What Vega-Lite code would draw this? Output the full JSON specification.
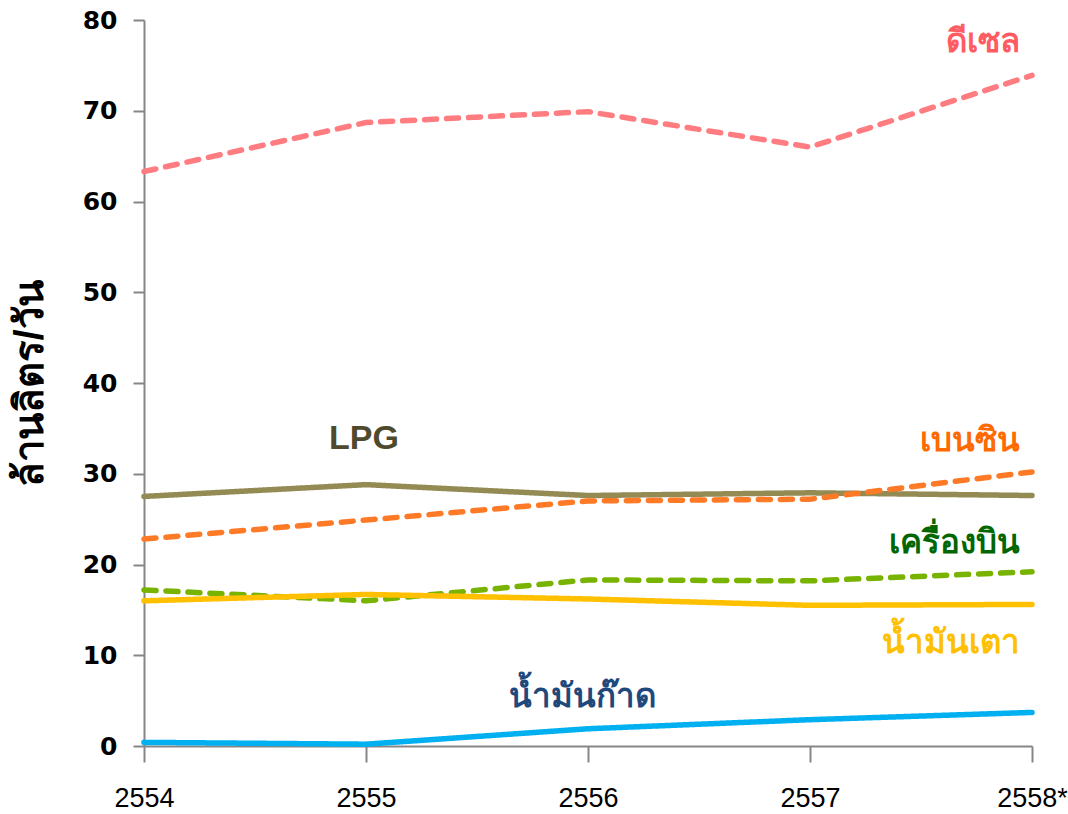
{
  "$schema": "https://vega.github.io/schema/vega-lite/v6.json",
  "width": 888,
  "height": 726,
  "autosize": {"type": "none"},
  "padding": {"left": 144, "top": 20, "right": 36, "bottom": 68},
  "background": "white",
  "config": {"view": {"stroke": null}, "font": "Liberation Sans"},
  "datasets": {
    "lines": [
      {"year": "2554", "series": "ดีเซล", "value": 63.3},
      {"year": "2555", "series": "ดีเซล", "value": 68.7},
      {"year": "2556", "series": "ดีเซล", "value": 69.9},
      {"year": "2557", "series": "ดีเซล", "value": 66.0},
      {"year": "2558*", "series": "ดีเซล", "value": 73.9},
      {"year": "2554", "series": "LPG", "value": 27.5},
      {"year": "2555", "series": "LPG", "value": 28.8},
      {"year": "2556", "series": "LPG", "value": 27.6},
      {"year": "2557", "series": "LPG", "value": 27.9},
      {"year": "2558*", "series": "LPG", "value": 27.6},
      {"year": "2554", "series": "เบนซิน", "value": 22.8},
      {"year": "2555", "series": "เบนซิน", "value": 24.9},
      {"year": "2556", "series": "เบนซิน", "value": 27.0},
      {"year": "2557", "series": "เบนซิน", "value": 27.2},
      {"year": "2558*", "series": "เบนซิน", "value": 30.2},
      {"year": "2554", "series": "เครื่องบิน", "value": 17.2},
      {"year": "2555", "series": "เครื่องบิน", "value": 16.0},
      {"year": "2556", "series": "เครื่องบิน", "value": 18.3},
      {"year": "2557", "series": "เครื่องบิน", "value": 18.2},
      {"year": "2558*", "series": "เครื่องบิน", "value": 19.2},
      {"year": "2554", "series": "น้ำมันเตา", "value": 16.0},
      {"year": "2555", "series": "น้ำมันเตา", "value": 16.7},
      {"year": "2556", "series": "น้ำมันเตา", "value": 16.2},
      {"year": "2557", "series": "น้ำมันเตา", "value": 15.5},
      {"year": "2558*", "series": "น้ำมันเตา", "value": 15.6},
      {"year": "2554", "series": "น้ำมันก๊าด", "value": 0.4},
      {"year": "2555", "series": "น้ำมันก๊าด", "value": 0.2},
      {"year": "2556", "series": "น้ำมันก๊าด", "value": 1.9},
      {"year": "2557", "series": "น้ำมันก๊าด", "value": 2.9},
      {"year": "2558*", "series": "น้ำมันก๊าด", "value": 3.7}
    ],
    "rightLabels": [
      {"year": "2558*", "name": "ดีเซล", "value": 77.6},
      {"year": "2558*", "name": "เบนซิน", "value": 33.6},
      {"year": "2558*", "name": "เครื่องบิน", "value": 22.4},
      {"year": "2558*", "name": "น้ำมันเตา", "value": 11.3}
    ],
    "lpgLabel": [
      {"year": "2555", "name": "LPG", "value": 33.8}
    ],
    "keroLabel": [
      {"year": "2556", "name": "น้ำมันก๊าด", "value": 5.4}
    ]
  },
  "resolve": {"scale": {"color": "independent"}},
  "encoding": {
    "x": {
      "field": "year", "type": "ordinal",
      "scale": {"type": "point", "padding": 0, "domain": ["2554", "2555", "2556", "2557", "2558*"]},
      "axis": {
        "title": null, "labelAngle": 0, "labelFontSize": 27, "labelColor": "black",
        "labelFont": "Liberation Sans",
        "domainColor": "#868686", "domainWidth": 2, "tickColor": "#868686", "tickWidth": 2,
        "tickSize": 16, "labelPadding": 23, "grid": false
      }
    },
    "y": {
      "field": "value", "type": "quantitative",
      "scale": {"domain": [0, 80], "nice": false, "zero": true},
      "axis": {
        "title": "ล้านลิตร/วัน", "titleFontSize": 40, "titleFontWeight": "bold", "titleColor": "black",
        "titlePadding": 32,
        "values": [0, 10, 20, 30, 40, 50, 60, 70, 80],
        "labelFontSize": 25, "labelFontWeight": "bold", "labelColor": "black",
        "labelFont": "Verdana, DejaVu Sans",
        "domainColor": "#868686", "domainWidth": 2, "tickColor": "#868686", "tickWidth": 2,
        "tickSize": 11, "labelPadding": 16, "grid": false
      }
    }
  },
  "layer": [
    {
      "data": {"name": "lines"},
      "mark": {"type": "line", "strokeWidth": 5.5, "strokeCap": "round"},
      "encoding": {
        "color": {
          "field": "series", "type": "nominal", "legend": null,
          "scale": {
            "domain": ["ดีเซล", "LPG", "เบนซิน", "เครื่องบิน", "น้ำมันเตา", "น้ำมันก๊าด"],
            "range": ["#FF7C80", "#948A54", "#FF7A26", "#78B300", "#FFC000", "#00B0F0"]
          }
        },
        "strokeDash": {
          "field": "series", "type": "nominal", "legend": null,
          "scale": {
            "domain": ["ดีเซล", "LPG", "เบนซิน", "เครื่องบิน", "น้ำมันเตา", "น้ำมันก๊าด"],
            "range": [[12, 10], [1, 0], [12, 10], [12, 10], [1, 0], [1, 0]]
          }
        },
        "detail": {"field": "series"}
      }
    },
    {
      "data": {"name": "rightLabels"},
      "mark": {"type": "text", "align": "right", "baseline": "middle", "dx": -12, "fontSize": 33, "fontWeight": "bold", "font": "Liberation Sans Narrow, Noto Sans, sans-serif"},
      "encoding": {
        "text": {"field": "name"},
        "color": {
          "field": "name", "type": "nominal", "legend": null,
          "scale": {
            "domain": ["ดีเซล", "เบนซิน", "เครื่องบิน", "น้ำมันเตา"],
            "range": ["#FF5B63", "#FF6A00", "#006600", "#FFC000"]
          }
        }
      }
    },
    {
      "data": {"name": "lpgLabel"},
      "mark": {"type": "text", "align": "center", "baseline": "middle", "dx": -2, "fontSize": 34, "fontWeight": "bold", "font": "Liberation Sans Narrow, Liberation Sans", "color": "#4F4A2E"},
      "encoding": {
        "text": {"field": "name"}
      }
    },
    {
      "data": {"name": "keroLabel"},
      "mark": {"type": "text", "align": "center", "baseline": "middle", "dx": -6, "fontSize": 33, "fontWeight": "bold", "font": "Liberation Sans Narrow, Noto Sans, sans-serif", "color": "#1F497D"},
      "encoding": {
        "text": {"field": "name"}
      }
    }
  ]
}
